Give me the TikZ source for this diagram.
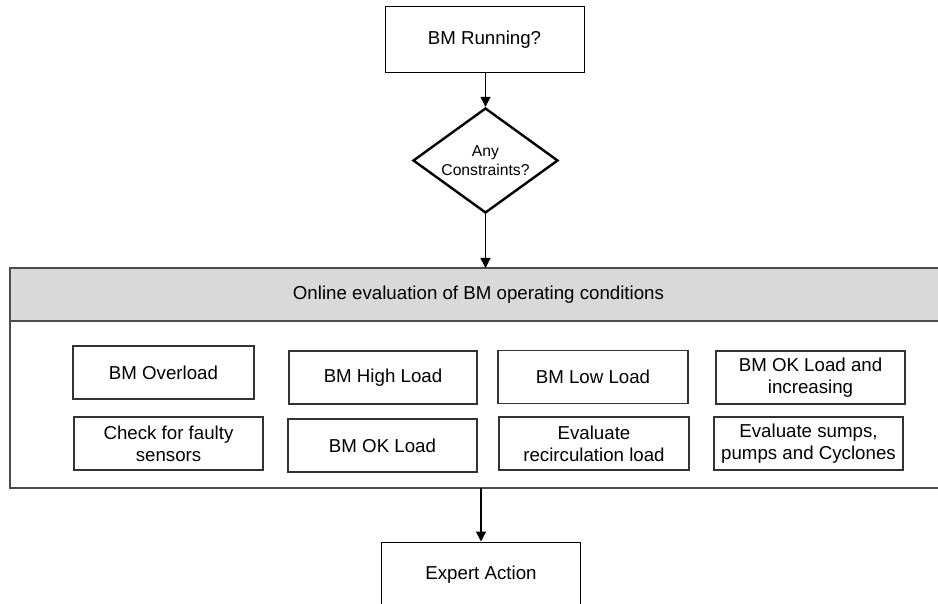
\documentclass[tikz,border=0pt]{standalone}
\usepackage{fontspec}
\setmainfont{Liberation Sans}
\usetikzlibrary{shapes.geometric,arrows.meta}
\begin{document}
\begin{tikzpicture}[x=1pt,y=-1pt,
  mainfont/.style={font=\fontsize{18.7pt}{21.7pt}\selectfont},
  topbox/.style={draw=black,line width=1pt,rectangle,inner sep=0pt,minimum width=199pt,minimum height=66pt,mainfont,align=center},
  decision/.style={draw=black,line width=2.4pt,diamond,inner sep=0pt,minimum width=145pt,minimum height=105pt,aspect=1.38,font=\fontsize{15.7pt}{18.5pt}\selectfont,align=center},
  header/.style={draw=black!70,line width=1.5pt,fill=black!15,rectangle,inner sep=0pt,minimum width=937pt,minimum height=53pt,mainfont},
  body/.style={draw=black!70,line width=1.5pt,rectangle,inner sep=0pt,minimum width=937pt,minimum height=167pt},
  itembox/.style={draw=black!80,line width=1.2pt,rectangle,inner sep=0pt,minimum height=53pt,mainfont,align=center},
  flow/.style={draw=black,line width=1.5pt,-{Triangle[length=10pt,width=10pt]}}
]
\useasboundingbox (0,0) rectangle (938,604);
\clip (0,0) rectangle (938,604);
\node[topbox] (run) at (484.5,40) {BM Running?};
\node[decision] (cons) at (485.5,160.5) {Any\\Constraints?};
\node[body] (bodybox) at (478.5,404.5) {};
\node[header] (head) at (478.5,294.5) {Online evaluation of BM operating conditions};
\node[itembox,minimum width=181pt] (b1) at (163.5,372.5) {BM Overload};
\node[itembox,minimum width=189pt] (b2) at (168.5,443.5) {Check for faulty\\sensors};
\node[itembox,minimum width=188pt] (b3) at (383,377.5) {BM High Load};
\node[itembox,minimum width=189pt] (b4) at (382.5,445.5) {BM OK Load};
\node[itembox,minimum width=190pt] (b5) at (593,377) {BM Low Load};
\node[itembox,minimum width=190pt] (b6) at (594,443.5) {Evaluate\\recirculation load};
\node[itembox,minimum width=189pt] (b7) at (810.5,377.5) {BM OK Load and\\increasing};
\node[itembox,minimum width=189pt] (b8) at (808.5,443.5) {Evaluate sumps,\\pumps and Cyclones};
\node[topbox] (act) at (481,575) {Expert Action};
\coordinate (headtop) at (485.5,268);
\coordinate (bodybot) at (481,488);
\draw[flow] (run.south -| cons.north) -- (cons.north);
\draw[flow] (cons.south) -- (headtop);
\draw[flow] (bodybot) -- (act.north);
\end{tikzpicture}
\end{document}
